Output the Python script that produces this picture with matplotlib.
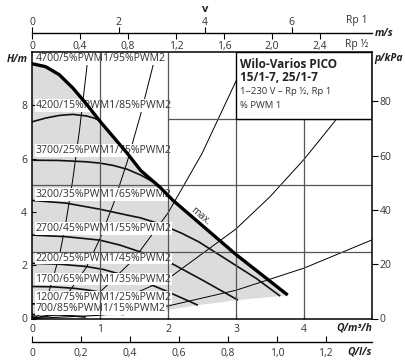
import matplotlib
matplotlib.use('Agg')
import matplotlib.pyplot as plt
from matplotlib.patches import Rectangle, Polygon

plt.rcParams['font.family'] = ['Open Sans', 'DejaVu Sans']

# ---------------- data ----------------
# max curve  (Q in m3/h, H in m)
q_max = [0, 0.2, 0.4, 0.6, 0.8, 1.0, 1.2, 1.4, 1.6, 1.88, 2.07, 3.0, 3.76]
h_max = [9.56, 9.45, 9.15, 8.65, 8.05, 7.4, 6.8, 6.2, 5.55, 4.93, 4.44, 2.4, 0.88]

# constant speed curves
q_4200 = [0, 0.2, 0.4, 0.6, 0.8, 0.9, 0.99]
h_4200 = [7.38, 7.52, 7.62, 7.66, 7.6, 7.53, 7.44]
q_3700 = [0, 0.4, 0.8, 1.0, 1.2, 1.4, 1.6, 1.8]
h_3700 = [5.94, 5.93, 5.88, 5.83, 5.74, 5.6, 5.38, 5.1]
q_3200 = [0, 0.5, 1.0, 1.4, 1.59, 1.88, 2.2, 2.45, 2.9, 3.3, 3.65]
h_3200 = [4.43, 4.33, 4.1, 3.88, 3.78, 3.55, 3.2, 2.88, 2.15, 1.5, 0.84]
q_2700 = [0, 0.5, 1.0, 1.3, 1.59, 2.05, 2.5, 3.03]
h_2700 = [3.13, 3.07, 2.94, 2.75, 2.5, 2.07, 1.45, 0.69]
q_2200 = [0, 0.4, 0.8, 1.05, 1.3, 1.65, 2.0, 2.44]
h_2200 = [2.07, 2.04, 1.95, 1.84, 1.66, 1.38, 1.0, 0.5]
q_1700 = [0, 0.3, 0.63, 0.82, 1.0, 1.3, 1.6, 1.9]
h_1700 = [1.2, 1.19, 1.13, 1.07, 0.99, 0.8, 0.55, 0.28]
q_1200 = [0, 0.22, 0.45, 0.7, 0.9, 1.1, 1.35]
h_1200 = [0.55, 0.55, 0.52, 0.45, 0.37, 0.27, 0.14]
q_700 = [0, 0.25, 0.42, 0.55, 0.68, 0.79]
h_700 = [0.15, 0.15, 0.13, 0.11, 0.08, 0.05]

speed_labels = ['4700/5%PWM1/95%PWM2', '4200/15%PWM1/85%PWM2',
                '3700/25%PWM1/75%PWM2', '3200/35%PWM1/65%PWM2',
                '2700/45%PWM1/55%PWM2', '2200/55%PWM1/45%PWM2',
                '1700/65%PWM1/35%PWM2', '1200/75%PWM1/25%PWM2',
                '700/85%PWM1/15%PWM2']
label_h = [9.76, 8.0, 6.31, 4.66, 3.39, 2.27, 1.48, 0.80, 0.36]

# system curves (read points)
sys1_q = [0, 0.2, 0.4, 0.5, 0.6, 0.7, 0.8, 0.83]
sys1_h = [0, 0.58, 2.32, 3.63, 5.22, 7.1, 9.28, 10.0]
sys2_q = [0, 0.4, 0.8, 1.0, 1.2, 1.4, 1.6, 1.83]
sys2_h = [0, 0.48, 1.92, 3.0, 4.32, 5.88, 7.68, 10.0]
sys3_q = [0, 0.5, 1.0, 1.5, 2.0, 2.5, 3.0, 3.18]
sys3_h = [0, 0.25, 0.99, 2.23, 3.96, 6.19, 8.91, 10.0]
sys4_q = [0, 1, 2, 3, 3.5, 4, 4.5, 5]
sys4_h = [0, 0.37, 1.49, 3.36, 4.57, 5.97, 7.55, 9.33]
sys5_q = [0, 1, 2, 3, 4, 5]
sys5_h = [0, 0.12, 0.47, 1.06, 1.89, 2.95]

# axes ticks
q_ticks = [0, 1, 2, 3, 4]
h_ticks = [0, 2, 4, 6, 8]
p_ticks = [0, 20, 40, 60, 80]
ls_ticks = [0, 0.2, 0.4, 0.6, 0.8, 1.0, 1.2]
ls_labels = ['0', '0,2', '0,4', '0,6', '0,8', '1,0', '1,2']
v_half_ticks = [0, 0.4, 0.8, 1.2, 1.6, 2.0, 2.4]
v_half_labels = ['0', '0,4', '0,8', '1,2', '1,6', '2,0', '2,4']
v_one_ticks = [0, 2, 4, 6]

# ---------------- figure ----------------
WP, HP = 405, 362
fig = plt.figure(figsize=(4.05, 3.62), dpi=100)


def fx(x):
    return x / WP


def fy(y):
    return 1 - y / HP


L, R, T, B = 32, 372, 52, 318.5
TXT = '#333333'
ax = fig.add_axes([fx(L), fy(B), (R - L) / WP, (B - T) / HP])
ax.set_xlim(0, 5)
ax.set_ylim(0, 10)

# grey operating area
ends = [(q_3200[-1], h_3200[-1]), (q_2700[-1], h_2700[-1]), (q_2200[-1], h_2200[-1]),
        (q_1700[-1], h_1700[-1]), (q_1200[-1], h_1200[-1]), (q_700[-1], h_700[-1]), (0, 0)]
poly = list(zip(q_max, h_max)) + ends
ax.add_patch(Polygon(poly, closed=True, facecolor='#dcdcdc', edgecolor='none', zorder=1))

# system curves
for sq, sh in [(sys1_q, sys1_h), (sys2_q, sys2_h), (sys3_q, sys3_h),
               (sys4_q, sys4_h), (sys5_q, sys5_h)]:
    ax.plot(sq, sh, color='black', lw=0.7, zorder=2, clip_on=True)

# speed curves
for cq, ch in [(q_4200, h_4200), (q_3700, h_3700), (q_3200, h_3200), (q_2700, h_2700),
               (q_2200, h_2200), (q_1700, h_1700), (q_1200, h_1200), (q_700, h_700)]:
    ax.plot(cq, ch, color='#111111', lw=1.2, zorder=3, solid_capstyle='butt')

# labels
for txt, hh in zip(speed_labels, label_h):
    ax.text(0.05, hh, txt, fontsize=7.6, color=TXT, ha='left', va='center', zorder=4,
            bbox=dict(facecolor='white', edgecolor='none', pad=0.6))

# grid
gc = '#555555'
ax.vlines([1, 2], 0, 10, color=gc, lw=0.9, zorder=5)
ax.vlines([3, 4], 0, 7.5, color=gc, lw=0.9, zorder=5)
ax.hlines([2.5, 5], 0, 5, color=gc, lw=0.9, zorder=5)
ax.hlines([7.5], 2, 5, color=gc, lw=0.9, zorder=5)

# max curve
ax.plot(q_max, h_max, color='black', lw=2.4, zorder=6, solid_capstyle='butt')
ax.text(2.47, 3.85, 'max.', rotation=-39.7, rotation_mode='anchor', ha='center',
        va='center', fontsize=7, color=TXT, zorder=6)

# text box
ax.add_patch(Rectangle((3, 7.5), 2, 2.5, facecolor='white', edgecolor='black', lw=1.0, zorder=7))
fig.text(fx(240), fy(64), 'Wilo-Varios PICO', fontsize=8.5, fontweight='bold', color='#222222',
         ha='left', va='center', zorder=8)
fig.text(fx(240), fy(77.5), '15/1-7, 25/1-7', fontsize=8.5, fontweight='bold', color='#222222',
         ha='left', va='center', zorder=8)
fig.text(fx(240), fy(92), '1~230 V – Rp ½, Rp 1', fontsize=6.8, color=TXT,
         ha='left', va='center', zorder=8)
fig.text(fx(240), fy(105), '% PWM 1', fontsize=6.8, color=TXT,
         ha='left', va='center', zorder=8)

# main axes styling
for s in ax.spines.values():
    s.set_linewidth(1.1)
    s.set_zorder(9)
ax.set_xticks(q_ticks)
ax.set_yticks(h_ticks)
ax.tick_params(axis='both', direction='in', length=3, width=0.8, labelsize=7.5,
               labelcolor=TXT)
ax.tick_params(axis='x', pad=4)
ax.tick_params(axis='y', pad=3.5)

ax2 = ax.twinx()
ax2.set_ylim(0, 10 * 9.81)
ax2.set_yticks(p_ticks)
ax2.tick_params(axis='y', direction='out', length=4, width=0.8, labelsize=7.5,
                labelcolor=TXT, pad=1.5)
for s in ax2.spines.values():
    s.set_visible(False)

fig.text(fx(28), fy(60), 'H/m', fontsize=7.5, fontweight='bold', style='italic',
         color='#222222', ha='right', va='center')
fig.text(fx(374), fy(59), 'p/kPa', fontsize=7.5, fontweight='bold', style='italic',
         color='#222222', ha='left', va='center')
fig.text(fx(372), fy(328), 'Q/m³/h', fontsize=7.5, fontweight='bold', style='italic',
         color='#222222', ha='right', va='center')

# velocity axis at the top
axv = fig.add_axes([fx(L), fy(33), (R - L) / WP, 1e-6])
axv.set_xlim(0, (R - L) / 120)
axv.set_yticks([])
axv.patch.set_visible(False)
for s in ['left', 'right', 'top']:
    axv.spines[s].set_visible(False)
axv.spines['bottom'].set_linewidth(1.0)
axv.set_xticks(v_half_ticks)
axv.set_xticklabels(v_half_labels)
axv.tick_params(axis='x', direction='out', length=4, width=0.8, pad=1.5, labelsize=7.5,
                labelcolor=TXT)
axv2 = axv.twiny()
axv2.set_xlim(0, (R - L) / 43.3)
axv2.set_xticks(v_one_ticks)
axv2.tick_params(axis='x', direction='out', length=4, width=0.8, pad=-0.5, labelsize=7.5,
                 labelcolor=TXT)
for s in axv2.spines.values():
    s.set_visible(False)

fig.text(fx(205), fy(10), 'v', fontsize=8, fontweight='bold', color='#222222',
         ha='center', va='center')
fig.text(fx(368), fy(21), 'Rp 1', fontsize=7.5, color=TXT, ha='right', va='center')
fig.text(fx(368), fy(44), 'Rp ½', fontsize=7.5, color=TXT, ha='right', va='center')
fig.text(fx(375), fy(34), 'm/s', fontsize=7.5, fontweight='bold', style='italic',
         color='#222222', ha='left', va='center')

# flow axis in l/s at the bottom
axq = fig.add_axes([fx(L), fy(342), (R - L) / WP, 1e-6])
axq.set_xlim(0, 5 / 3.6)
axq.set_yticks([])
axq.patch.set_visible(False)
for s in ['left', 'right', 'top']:
    axq.spines[s].set_visible(False)
axq.spines['bottom'].set_linewidth(1.0)
axq.set_xticks(ls_ticks)
axq.set_xticklabels(ls_labels)
axq.tick_params(axis='x', direction='in', length=4, width=0.8, pad=4.5, labelsize=7.5,
                labelcolor=TXT)
fig.text(fx(372), fy(352), 'Q/l/s', fontsize=7.5, fontweight='bold', style='italic',
         color='#222222', ha='right', va='center')

fig.savefig('out.png', dpi=100)
